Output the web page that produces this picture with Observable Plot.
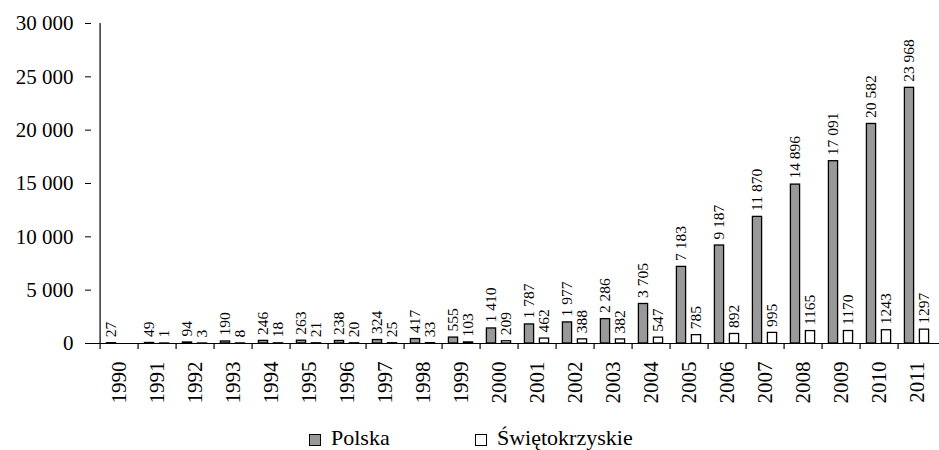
<!DOCTYPE html>
<html>
<head>
<meta charset="utf-8">
<script src="https://cdn.jsdelivr.net/npm/d3@7"></script>
<script src="https://cdn.jsdelivr.net/npm/@observablehq/plot@0.6"></script>
<style>
  html, body { margin: 0; padding: 0; background: #fff; overflow: hidden; }
  body { width: 939px; height: 450px; font-family: "Liberation Serif", "Tinos", "Times New Roman", "DejaVu Serif", serif; }
  #legend { position: relative; height: 38px; font-size: 22px; color: #000; }
  .item { position: absolute; top: 14px; display: flex; align-items: center; line-height: 24px; }
  .sw { width: 10px; height: 10px; border: 1px solid #000; margin-right: 10px; margin-top: 3px; }
</style>
</head>
<body>
<div id="chart"></div>
<div id="legend"></div>
<script>
const years = ["1990","1991","1992","1993","1994","1995","1996","1997","1998","1999","2000","2001","2002","2003","2004","2005","2006","2007","2008","2009","2010","2011"];
const polska = [27,49,94,190,246,263,238,324,417,555,1410,1787,1977,2286,3705,7183,9187,11870,14896,17091,20582,23968];
const swietokrzyskie = [null,1,3,8,18,21,20,25,33,103,209,462,388,382,547,785,892,995,1165,1170,1243,1297];
const yTicks = [0,5000,10000,15000,20000,25000,30000];
const seriesNames = ["Polska","Świętokrzyskie"];
const seriesColors = ["#999999","#ffffff"];

const W = 939, H = 412, ML = 91, MR = -6, MT = 23, MB = 69;
const step = (W - ML - MR) / years.length;
const bw = 10, gap = 5;
const leftInset = (step - 2 * bw - gap) / 2 - 0.5;

const loc = d3.formatLocale({decimal: ",", thousands: " ", grouping: [3], currency: ["", ""]});
const fmtSpace = loc.format(",d");

const data = years.map((y, i) => ({year: y, polska: polska[i], swiet: swietokrzyskie[i]}));
const dataS = data.filter(d => d.swiet != null);

const font = "'Liberation Serif', Tinos, 'Times New Roman', 'DejaVu Serif', serif";

const chart = Plot.plot({
  width: W, height: H,
  marginLeft: ML, marginRight: MR, marginTop: MT, marginBottom: MB,
  style: {fontFamily: font, background: "#fff", color: "#000", overflow: "visible"},
  x: {type: "band", domain: years, padding: 0, axis: null, label: null},
  y: {domain: [0, 30000], axis: null, label: null},
  marks: [
    Plot.barY(data, {x: "year", y: "polska", fill: seriesColors[0], stroke: "#000", strokeWidth: 1.3,
      insetLeft: leftInset, insetRight: step - leftInset - bw}),
    Plot.barY(dataS, {x: "year", y: "swiet", fill: seriesColors[1], stroke: "#000", strokeWidth: 1.3,
      insetLeft: leftInset + bw + gap, insetRight: step - leftInset - 2 * bw - gap}),
    Plot.text(data, {x: "year", y: "polska", text: d => fmtSpace(d.polska), rotate: -90, textAnchor: "start",
      dx: leftInset + bw / 2 - step / 2, dy: -6, fontSize: 15.5, fontFamily: font, fill: "#000"}),
    Plot.text(dataS, {x: "year", y: "swiet", text: d => String(d.swiet), rotate: -90, textAnchor: "start",
      dx: leftInset + bw + gap + bw / 2 - step / 2, dy: -6, fontSize: 15.5, fontFamily: font, fill: "#000"}),
    Plot.ruleY([0], {stroke: "#000", strokeWidth: 1.2}),
    Plot.ruleX([years[0]], {dx: -step / 2, y1: 0, y2: 30000, stroke: "#000", strokeWidth: 1.2}),
    Plot.axisY({ticks: yTicks, tickFormat: fmtSpace, tickSize: 6, tickPadding: 12, fontSize: 21, fontFamily: font, stroke: "#000", fill: "#000", label: null}),
    Plot.axisX({ticks: years, anchor: "bottom", tickSize: 6, dx: -step / 2, fill: "none", stroke: "#000", strokeWidth: 1.2, label: null}),
    Plot.axisX({ticks: years, anchor: "bottom", tickSize: 0, tickRotate: -90, tickPadding: 18, fontSize: 21, fontFamily: font, fill: "#000", label: null})
  ]
});
document.getElementById("chart").appendChild(chart);

const legend = document.getElementById("legend");
const legendX = [309, 475];
seriesNames.forEach((name, i) => {
  const item = document.createElement("div");
  item.className = "item";
  item.style.left = legendX[i] + "px";
  const sw = document.createElement("div");
  sw.className = "sw";
  sw.style.background = seriesColors[i];
  const label = document.createElement("span");
  label.textContent = name;
  item.appendChild(sw);
  item.appendChild(label);
  legend.appendChild(item);
});
</script>
</body>
</html>
